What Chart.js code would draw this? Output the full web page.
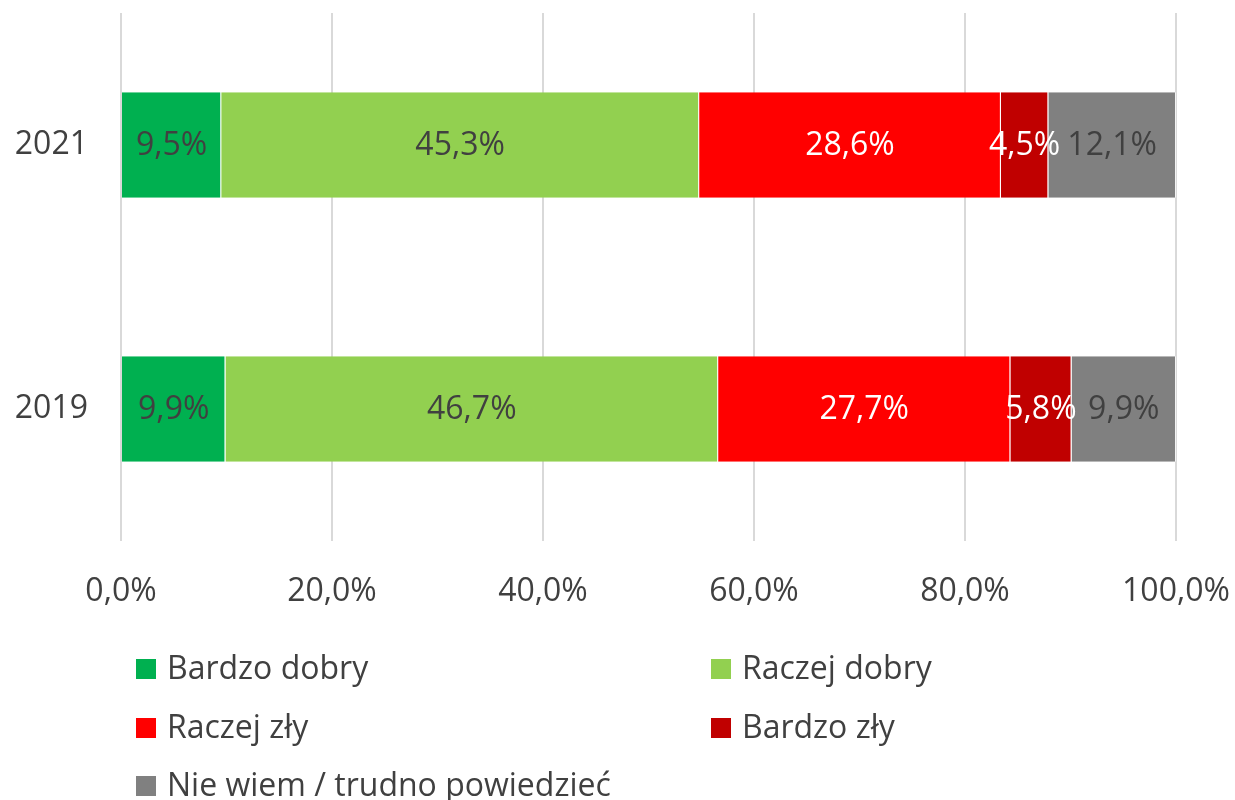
<!DOCTYPE html>
<html>
<head>
<meta charset="utf-8">
<script src="https://cdn.jsdelivr.net/npm/chart.js@4/dist/chart.umd.min.js"></script>
<style>
  html, body { margin: 0; padding: 0; background: #fff; }
  #wrap { position: relative; width: 1235px; height: 800px; overflow: hidden; }
  #c { position: absolute; left: 0; top: 0; }
  #legend { position: absolute; left: 0; top: 0; width: 1235px; height: 800px; pointer-events: none;
            font-family: "Open Sans", sans-serif; font-size: 32px; color: #404040; }
  .item { position: absolute; display: flex; align-items: center; white-space: nowrap; }
  .box { width: 20px; height: 20px; margin-right: 11px; }
  .txt { position: relative; top: -3px; }
</style>
</head>
<body>
<div id="wrap">
  <canvas id="c" width="1235" height="800"></canvas>
  <div id="legend"></div>
</div>
<script>
const categories = ["2021", "2019"];
const seriesNames = ["Bardzo dobry", "Raczej dobry", "Raczej zły", "Bardzo zły", "Nie wiem / trudno powiedzieć"];
const bardzoDobry = [9.5, 9.9];
const raczejDobry = [45.3, 46.7];
const raczejZly = [28.6, 27.7];
const bardzoZly = [4.5, 5.8];
const nieWiem = [12.1, 9.9];
const xTicks = [0, 20, 40, 60, 80, 100];

const colors = ["#00B050", "#92D050", "#FF0000", "#C00000", "#808080"];
const labelColors = ["#404040", "#404040", "#FFFFFF", "#FFFFFF", "#404040"];
const seriesValues = [bardzoDobry, raczejDobry, raczejZly, bardzoZly, nieWiem];

const fmt = v => v.toFixed(1).replace('.', ',') + '%';
const FONT = '"Open Sans", sans-serif';
const FS = 32;

const dataLabels = {
  id: 'dataLabels',
  afterDatasetsDraw(chart) {
    const ctx = chart.ctx;
    ctx.save();
    ctx.font = FS + 'px ' + FONT;
    ctx.textAlign = 'center';
    ctx.textBaseline = 'middle';
    chart.data.datasets.forEach((ds, i) => {
      const meta = chart.getDatasetMeta(i);
      meta.data.forEach((el, j) => {
        const p = el.getCenterPoint();
        ctx.fillStyle = labelColors[i];
        ctx.fillText(fmt(ds.data[j]), p.x, p.y + 1);
      });
    });
    ctx.restore();
  }
};

const chart = new Chart(document.getElementById('c'), {
  type: 'bar',
  data: {
    labels: categories,
    datasets: seriesNames.map((n, i) => ({
      label: n,
      data: seriesValues[i],
      backgroundColor: colors[i],
      borderColor: 'rgba(255,255,255,0.7)',
      borderWidth: { left: 0, right: 1, top: 0, bottom: 0 },
      borderSkipped: false,
      categoryPercentage: 1,
      barPercentage: 0.4
    }))
  },
  options: {
    indexAxis: 'y',
    responsive: false,
    animation: false,
    devicePixelRatio: 1,
    layout: { padding: { top: 13, right: 59, left: 0, bottom: 0 } },
    plugins: { legend: { display: false }, tooltip: { enabled: false } },
    scales: {
      x: {
        stacked: true,
        min: 0, max: 100,
        afterBuildTicks: axis => { axis.ticks = xTicks.map(v => ({ value: v })); },
        afterFit: axis => {
          axis.height = 800 - 541;
          axis.paddingLeft = 0; axis.paddingRight = 0;
          axis.paddingTop = 0; axis.paddingBottom = 0;
        },
        grid: { color: '#D9D9D9', lineWidth: 2, drawTicks: false },
        border: { display: false },
        ticks: {
          padding: 32,
          color: '#404040',
          font: { family: FONT, size: FS },
          callback: v => fmt(v)
        }
      },
      y: {
        stacked: true,
        afterFit: axis => {
          axis.width = 121;
          axis.paddingLeft = 0; axis.paddingRight = 0;
          axis.paddingTop = 0; axis.paddingBottom = 0;
        },
        grid: { display: false, drawTicks: false },
        border: { display: false },
        ticks: {
          padding: 33,
          color: '#404040',
          font: { family: FONT, size: FS }
        }
      }
    }
  },
  plugins: [dataLabels]
});

// HTML legend built from chart datasets
const legend = document.getElementById('legend');
const positions = [[136, 669], [711, 669], [136, 728], [711, 728], [136, 786]];
chart.data.datasets.forEach((ds, i) => {
  const it = document.createElement('div');
  it.className = 'item';
  it.style.left = positions[i][0] + 'px';
  it.style.top = (positions[i][1] - 22) + 'px';
  it.style.height = '44px';
  const b = document.createElement('div');
  b.className = 'box';
  b.style.background = ds.backgroundColor;
  const t = document.createElement('span');
  t.className = 'txt';
  t.textContent = ds.label;
  it.appendChild(b); it.appendChild(t);
  legend.appendChild(it);
});
</script>
</body>
</html>
